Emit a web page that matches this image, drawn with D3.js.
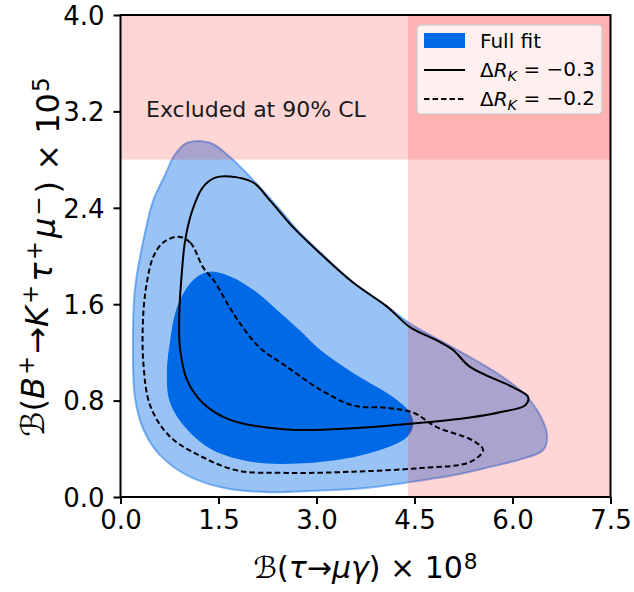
<!DOCTYPE html>
<html>
<head>
<meta charset="utf-8">
<script src="https://cdn.jsdelivr.net/npm/d3@7"></script>
<style>
  body { margin: 0; background: #fff; }
  svg text { font-family: "DejaVu Sans", sans-serif; }
</style>
</head>
<body>
<svg width="634" height="592"></svg>
<script>
// contour outlines, [B(tau->mu gamma)*1e8, B(B->K tau mu)*1e5]
var fullFit95 = [
  [1.02, 2.94], [1.37, 2.94], [1.68, 2.82], [2.03, 2.63], [2.40, 2.41], [2.70, 2.22],
  [3.06, 2.03], [3.56, 1.78], [4.08, 1.58], [4.43, 1.44], [4.89, 1.30], [5.35, 1.16],
  [5.81, 1.01], [6.19, 0.85], [6.42, 0.68], [6.53, 0.51], [6.47, 0.39], [6.11, 0.31],
  [5.66, 0.25], [5.09, 0.18], [4.39, 0.12], [3.67, 0.07], [2.90, 0.05], [2.29, 0.04],
  [1.63, 0.07], [1.02, 0.18], [0.60, 0.35], [0.35, 0.56], [0.22, 0.83], [0.19, 1.24],
  [0.22, 1.72], [0.35, 2.13], [0.50, 2.46], [0.68, 2.67], [0.83, 2.84]
];
var fullFit68 = [
  [1.37, 1.87], [1.68, 1.83], [2.03, 1.72], [2.40, 1.55], [2.75, 1.38], [3.06, 1.22],
  [3.56, 1.03], [4.17, 0.83], [4.43, 0.70], [4.48, 0.60], [4.39, 0.50], [4.08, 0.41],
  [3.56, 0.33], [2.79, 0.28], [2.03, 0.29], [1.41, 0.39], [1.02, 0.56], [0.76, 0.78],
  [0.71, 1.03], [0.76, 1.30], [0.85, 1.55], [1.02, 1.74], [1.18, 1.83]
];
var dRK03 = [
  [1.68, 2.66], [2.03, 2.61], [2.29, 2.46], [2.64, 2.24], [3.06, 2.02], [3.56, 1.78],
  [4.08, 1.58], [4.43, 1.41], [4.84, 1.30], [5.09, 1.22], [5.35, 1.08], [6.01, 0.91],
  [6.24, 0.83], [6.19, 0.76], [5.86, 0.71], [5.35, 0.66], [4.48, 0.61], [3.56, 0.57],
  [2.55, 0.56], [1.68, 0.64], [1.26, 0.78], [1.02, 0.97], [0.91, 1.24], [0.90, 1.53],
  [0.93, 1.80], [0.99, 2.13], [1.10, 2.38], [1.26, 2.57], [1.45, 2.65]
];
var dRK02 = [
  [0.88, 2.16], [1.07, 2.11], [1.26, 1.91], [1.45, 1.78], [1.63, 1.61], [1.83, 1.44],
  [2.13, 1.24], [2.55, 1.08], [3.06, 0.89], [3.56, 0.76], [4.08, 0.74], [4.48, 0.70],
  [4.84, 0.58], [5.39, 0.47], [5.55, 0.39], [5.35, 0.29], [4.59, 0.24], [3.56, 0.21],
  [2.55, 0.20], [1.79, 0.22], [1.26, 0.33], [0.76, 0.50], [0.46, 0.75], [0.35, 1.11],
  [0.35, 1.53], [0.41, 1.80], [0.50, 1.99], [0.65, 2.11]
];
var xTicks = [0.0, 1.5, 3.0, 4.5, 6.0, 7.5];
var yTicks = [0.0, 0.8, 1.6, 2.4, 3.2, 4.0];
var limitTauMuGamma = 4.4;   // excluded x > 4.4
var limitBKTauMu = 2.8;      // excluded y > 2.8

var margin = {left: 120.5, right: 23.5, top: 15, bottom: 95};
var width = 634, height = 592;
var svg = d3.select("svg");

var x = d3.scaleLinear().domain([0, 7.5]).range([margin.left, width - margin.right]);
var y = d3.scaleLinear().domain([0, 4]).range([height - margin.bottom, margin.top]);

var blue = "#0069e6";
var line = d3.line()
  .x(d => x(d[0]))
  .y(d => y(d[1]))
  .curve(d3.curveCatmullRomClosed.alpha(0.5));

svg.append("path")
  .attr("d", line(fullFit95))
  .attr("fill", blue)
  .attr("fill-opacity", 0.4)
  .attr("stroke", blue)
  .attr("stroke-opacity", 0.45)
  .attr("stroke-width", 2);

svg.append("path")
  .attr("d", line(fullFit68))
  .attr("fill", blue);

// excluded regions
svg.append("rect")
  .attr("x", x(0)).attr("y", y(4))
  .attr("width", x(7.5) - x(0)).attr("height", y(limitBKTauMu) - y(4))
  .attr("fill", "red").attr("fill-opacity", 0.16);
svg.append("rect")
  .attr("x", x(limitTauMuGamma)).attr("y", y(4))
  .attr("width", x(7.5) - x(limitTauMuGamma)).attr("height", y(0) - y(4))
  .attr("fill", "red").attr("fill-opacity", 0.16);

svg.append("path")
  .attr("d", line(dRK03))
  .attr("fill", "none")
  .attr("stroke", "black")
  .attr("stroke-width", 2);

svg.append("path")
  .attr("d", line(dRK02))
  .attr("fill", "none")
  .attr("stroke", "black")
  .attr("stroke-width", 2)
  .attr("stroke-dasharray", "5.5,3");

svg.append("text")
  .attr("x", 146).attr("y", 117)
  .attr("font-size", 22)
  .attr("fill", "#1a1a1a")
  .text("Excluded at 90% CL");

// axes
var xAxis = svg.append("g")
  .attr("transform", "translate(0," + y(0) + ")")
  .call(d3.axisBottom(x).tickValues(xTicks).tickFormat(d3.format(".1f")).tickSize(7).tickPadding(7));
var yAxis = svg.append("g")
  .attr("transform", "translate(" + x(0) + ",0)")
  .call(d3.axisLeft(y).tickValues(yTicks).tickFormat(d3.format(".1f")).tickSize(7).tickPadding(9));

[xAxis, yAxis].forEach(function(g) {
  g.select(".domain").remove();
  g.selectAll(".tick line").attr("stroke-width", 2).attr("stroke", "black");
  g.selectAll(".tick text")
    .attr("font-size", 26)
    .attr("fill", "black")
    .attr("font-family", "DejaVu Sans, sans-serif");
});
yAxis.selectAll(".tick text").attr("dy", "0.36em");

svg.append("rect")
  .attr("x", x(0)).attr("y", y(4))
  .attr("width", x(7.5) - x(0)).attr("height", y(0) - y(4))
  .attr("fill", "none").attr("stroke", "black").attr("stroke-width", 2);

// math-ish labels built from tspans
function richText(sel, parts) {
  var shift = 0;
  parts.forEach(function(p) {
    var target = p.sup ? -0.42 : p.sub ? 0.25 : 0;
    var ts = sel.append("tspan").text(p.t);
    var dy = (target - shift);
    if (dy !== 0) ts.attr("dy", dy + "em");
    if (p.sup || p.sub) ts.attr("font-size", "72%");
    if (p.it) ts.attr("font-style", "italic");
    if (p.dx) ts.attr("dx", p.dx);
    shift = target;
  });
}

var xl = svg.append("text")
  .attr("x", (x(0) + x(7.5)) / 2).attr("y", 578)
  .attr("text-anchor", "middle")
  .attr("font-size", 30);
richText(xl, [
  {t: "\u212C(", it: false}, {t: "\u03C4", it: true}, {t: "\u2192"}, {t: "\u03BC\u03B3", it: true},
  {t: ") \u00D7 10"}, {t: "8", sup: true, dx: 1}
]);

var yl = svg.append("text")
  .attr("transform", "translate(44," + (y(2) + 1) + ") rotate(-90)")
  .attr("text-anchor", "middle")
  .attr("font-size", 32);
richText(yl, [
  {t: "\u212C("}, {t: "B", it: true}, {t: "+", sup: true, dx: 2}, {t: "\u2192", dx: 2},
  {t: "K", it: true}, {t: "+", sup: true, dx: 2}, {t: "\u03C4", it: true, dx: 3}, {t: "+", sup: true, dx: 2},
  {t: "\u03BC", it: true, dx: 3}, {t: "\u2212", sup: true, dx: 2}, {t: ") \u00D7 10", dx: 3}, {t: "5", sup: true, dx: 1}
]);

// legend
var lg = svg.append("g");
lg.append("rect")
  .attr("x", 417).attr("y", 25).attr("width", 185).attr("height", 89).attr("rx", 4)
  .attr("fill", "white").attr("fill-opacity", 0.8)
  .attr("stroke", "#cccccc").attr("stroke-opacity", 0.8).attr("stroke-width", 1.5);
lg.append("rect")
  .attr("x", 424).attr("y", 33).attr("width", 41).attr("height", 15).attr("fill", blue);
lg.append("line")
  .attr("x1", 424).attr("x2", 465).attr("y1", 70).attr("y2", 70)
  .attr("stroke", "black").attr("stroke-width", 2);
lg.append("line")
  .attr("x1", 424).attr("x2", 465).attr("y1", 99).attr("y2", 99)
  .attr("stroke", "black").attr("stroke-width", 2).attr("stroke-dasharray", "5.5,3");

lg.append("text").attr("x", 480).attr("y", 48).attr("font-size", 20).text("Full fit");
[["\u22120.3", 77], ["\u22120.2", 106]].forEach(function(r) {
  var t = lg.append("text").attr("x", 480).attr("y", r[1]).attr("font-size", 20);
  richText(t, [{t: "\u0394"}, {t: "R", it: true}, {t: "K", it: true, sub: true}, {t: " = " + r[0]}]);
});
</script>
</body>
</html>
